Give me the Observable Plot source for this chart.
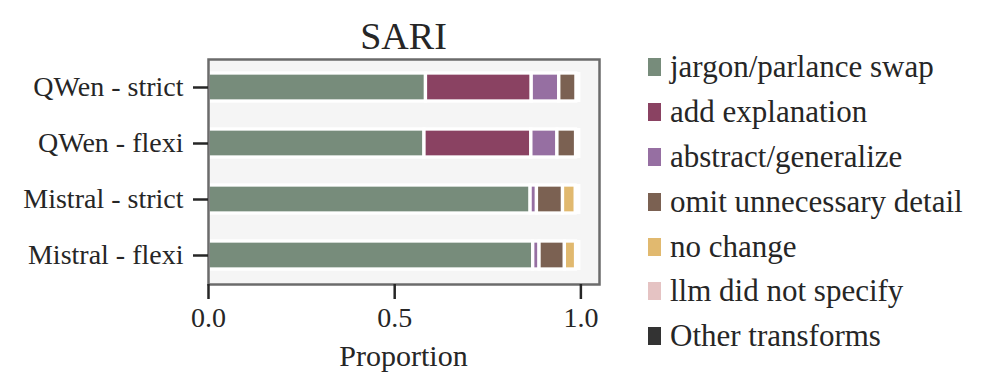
<!DOCTYPE html>
<html><head><meta charset="utf-8">
<script src="https://cdn.jsdelivr.net/npm/d3@7"></script>
<script src="https://cdn.jsdelivr.net/npm/@observablehq/plot@0.6"></script>
<style>
body{margin:0;background:#fff;font-family:"Liberation Serif","Times New Roman",serif;color:#262626}
#wrap{position:relative;width:997px;height:392px;overflow:hidden;background:#fff}
#chart{position:absolute;left:0;top:0}
#title{position:absolute;left:208px;width:391px;top:17px;text-align:center;font-size:38px;line-height:38px}
#xlabel{position:absolute;left:208px;width:391px;top:341px;text-align:center;font-size:30px;line-height:30px}
#legend{position:absolute;left:648px;top:44.5px}
.row{height:44.9px;display:flex;align-items:center;font-size:31px;white-space:nowrap}
.sw{width:13px;height:18px;margin-right:9px;flex:none}
</style></head><body>
<div id="wrap"><div id="chart"></div><div id="title">SARI</div><div id="xlabel">Proportion</div><div id="legend"></div></div>
<script>
const models = ["QWen - strict", "QWen - flexi", "Mistral - strict", "Mistral - flexi"];
const categories = ["jargon/parlance swap", "add explanation", "abstract/generalize", "omit unnecessary detail", "no change", "llm did not specify", "Other transforms"];
const colors = ["#778c7b", "#8a4262", "#966fa2", "#7b6152", "#e1b96f", "#e5c3c3", "#333333"];
const jargonSwap = [0.584, 0.580, 0.865, 0.872];
const addExplanation = [0.284, 0.287, 0.000, 0.000];
const abstractGeneralize = [0.074, 0.070, 0.017, 0.017];
const omitDetail = [0.046, 0.050, 0.070, 0.068];
const noChange = [0.000, 0.000, 0.034, 0.030];
const llmNotSpecify = [0.000, 0.000, 0.000, 0.000];
const otherTransforms = [0.000, 0.000, 0.000, 0.000];
const totals = [1.0, 1.0, 1.0, 1.0];
const xTicks = [0, 0.5, 1.0];

const series = [jargonSwap, addExplanation, abstractGeneralize, omitDetail, noChange, llmNotSpecify, otherTransforms];
const segs = [];
models.forEach((m, i) => {
  let acc = 0;
  series.forEach((s, k) => {
    const v = s[i];
    if (v > 0) segs.push({model: m, category: categories[k], x1: acc, x2: acc + v});
    acc += v;
  });
});
const totalRows = models.map((m, i) => ({model: m, total: totals[i]}));

const chart = Plot.plot({
  width: 620, height: 392,
  marginLeft: 208, marginRight: 21, marginTop: 59, marginBottom: 108,
  style: {fontFamily: "'Liberation Serif', 'Times New Roman', serif", fontSize: "28px", color: "#262626", background: "transparent"},
  x: {domain: [0, 1.05]},
  y: {domain: models, paddingInner: 0.495, paddingOuter: 0.2475},
  color: {domain: categories, range: colors},
  marks: [
    Plot.frame({fill: "#f5f5f5"}),
    Plot.barX(totalRows, {x1: 0, x2: "total", y: "model", fill: "white", insetTop: -1, insetBottom: -1}),
    Plot.barX(segs, {x1: "x1", x2: "x2", y: "model", fill: "category", stroke: "white", strokeWidth: 3.3}),
    Plot.frame({stroke: "#6b6b6b", strokeWidth: 2.5}),
    Plot.axisX({ticks: xTicks, tickFormat: d3.format(".1f"), tickSize: 15, tickPadding: 8, strokeWidth: 2.5, label: null}),
    Plot.axisY({tickSize: 15, tickPadding: 10, strokeWidth: 2.5, label: null})
  ]
});
document.getElementById("chart").appendChild(chart);

const legend = document.getElementById("legend");
categories.forEach((c, k) => {
  const row = document.createElement("div");
  row.className = "row";
  const sw = document.createElement("span");
  sw.className = "sw";
  sw.style.background = colors[k];
  const t = document.createElement("span");
  t.textContent = c;
  row.appendChild(sw);
  row.appendChild(t);
  legend.appendChild(row);
});
</script>
</body></html>
